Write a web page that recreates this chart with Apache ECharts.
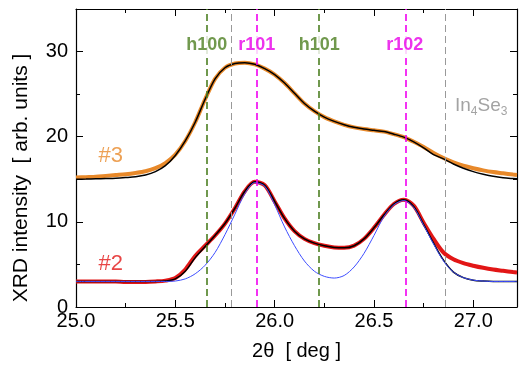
<!DOCTYPE html>
<html><head><meta charset="utf-8">
<script src="https://cdn.jsdelivr.net/npm/echarts@6/dist/echarts.min.js"></script>
<style>html,body{margin:0;padding:0;background:#fff}#c{width:519px;height:368px}</style>
</head><body><div id="c"></div>
<script>
// 2θ positions (deg)
const twoTheta = [25.0,25.05,25.1,25.15,25.2,25.25,25.3,25.35,25.4,25.45,25.5,25.55,25.6,25.65,25.7,25.75,25.8,25.85,25.9,25.95,26.0,26.05,26.1,26.15,26.2,26.25,26.3,26.35,26.4,26.45,26.5,26.55,26.6,26.65,26.7,26.75,26.8,26.85,26.9,26.95,27.0,27.05,27.1,27.15,27.2,27.22];
// sample #3 measured (orange) and fit (black)
const s3Data = [15.2,15.25,15.3,15.4,15.5,15.6,15.75,15.95,16.3,16.9,17.9,19.5,21.7,24.4,26.8,28.1,28.6,28.7,28.5,28.0,27.3,26.3,25.1,23.9,23.0,22.3,21.8,21.4,21.1,20.9,20.75,20.6,20.3,19.95,19.4,18.8,18.1,17.5,17.0,16.6,16.3,16.05,15.85,15.7,15.55,15.5];
const s3Fit  = [15.0,15.02,15.05,15.08,15.12,15.2,15.3,15.5,15.9,16.6,17.8,19.5,21.7,24.4,26.8,28.1,28.6,28.7,28.5,28.0,27.3,26.3,25.1,23.9,23.0,22.3,21.8,21.4,21.1,20.9,20.75,20.6,20.3,19.95,19.4,18.7,17.9,17.4,16.8,16.3,15.9,15.6,15.35,15.18,15.08,15.05];
// sample #2 measured (red), total fit (black), component fit (blue)
const s2Data = [3.0,3.0,3.0,3.0,3.0,2.95,2.95,2.95,3.0,3.1,3.4,4.4,6.0,7.2,8.4,9.8,11.6,13.6,14.7,14.3,12.4,10.4,8.9,8.0,7.5,7.2,7.0,6.95,7.2,8.0,9.3,10.8,12.1,12.6,11.9,9.9,8.0,6.4,5.6,5.15,4.85,4.6,4.4,4.25,4.1,4.05];
const s2Fit  = [3.0,3.0,3.0,3.0,3.0,3.0,3.0,3.0,3.0,3.05,3.3,4.2,5.8,7.1,8.4,9.8,11.6,13.6,14.7,14.3,12.4,10.4,8.9,8.0,7.5,7.2,7.0,6.95,7.2,8.0,9.3,10.8,12.1,12.6,11.8,9.7,7.5,5.5,4.1,3.45,3.15,3.05,3.0,3.0,3.0,3.0];
const s2Comp = [3.0,3.0,3.0,3.0,3.0,3.0,3.0,3.0,3.0,3.0,3.05,3.3,3.9,4.9,6.4,8.5,10.9,13.3,14.6,14.2,12.0,9.4,7.2,5.4,4.2,3.6,3.4,3.7,4.7,6.3,8.4,10.6,12.0,12.5,11.7,9.6,7.4,5.4,4.1,3.45,3.15,3.05,3.0,3.0,3.0,3.0];
// reference reflections
const refPos    = [25.658,25.78,25.91,26.224,26.655,26.856];
const refColors = ['#4d7f22','#999999','#f000f0','#4d7f22','#f000f0','#999999'];
const refNames  = ['h100','','r101','h101','r102',''];
const labelColors = ['#4d7f22','','#e800e8','#4d7f22','#e800e8',''];
const labelY = 30.8;
const xTicks = [25.0,25.5,26.0,26.5,27.0];
const yTicks = [0,10,20,30];

const pair = a => twoTheta.map((x,i)=>[x,a[i]]);
const font = 'Liberation Sans, Arial, sans-serif';

const peakLabels = refNames.map((n,i)=>n?{value:[refPos[i],labelY],label:{formatter:n,color:labelColors[i]}}:null).filter(Boolean);

const chart = echarts.init(document.getElementById('c'), null, {renderer:'canvas'});
const axisCommon = {
  axisLine:{show:true,onZero:false,lineStyle:{color:'#000',width:1.2}},
  axisTick:{show:true,inside:true,length:7,lineStyle:{color:'#000',width:1}},
  minorTick:{show:true,splitNumber:2,length:4,lineStyle:{color:'#000',width:1}},
  splitLine:{show:false}
};
chart.setOption({
  animation:false,
  grid:{left:76,right:2,top:9,bottom:61,containLabel:false,outerBoundsMode:'none'},
  xAxis:[
    Object.assign({type:'value',position:'bottom',min:25,max:27.22,interval:0.5,
      name:'2θ  [ deg ]',nameLocation:'middle',nameGap:34,
      nameTextStyle:{fontFamily:font,fontSize:20,color:'#000'},
      axisLabel:{fontFamily:font,fontSize:20,color:'#000',margin:4,showMaxLabel:false,
        formatter:v=>xTicks.some(t=>Math.abs(t-v)<1e-6)?v.toFixed(1):''}},axisCommon),
    Object.assign({type:'value',position:'top',min:25,max:27.22,interval:0.5,axisLabel:{show:false}},axisCommon)
  ],
  yAxis:[
    Object.assign({type:'value',position:'left',min:0,max:35,interval:10,
      name:'XRD intensity  [ arb. units ]',nameLocation:'middle',nameGap:44,
      nameTextStyle:{fontFamily:font,fontSize:21,color:'#000',padding:[0,40,0,0]},
      axisLabel:{fontFamily:font,fontSize:20,color:'#000',margin:8,showMaxLabel:false,
        formatter:v=>yTicks.includes(v)?String(v):''}},axisCommon),
    Object.assign({type:'value',position:'right',min:0,max:35,interval:10,axisLabel:{show:false}},axisCommon)
  ],
  series:[
    {type:'line',data:pair(s3Data),smooth:0.3,showSymbol:false,lineStyle:{color:'#e8892a',width:4},z:2,
      markLine:{silent:true,symbol:'none',label:{show:false},
        data:refPos.map((p,i)=>({xAxis:p,lineStyle:{color:refColors[i],type:[7,4],width:i===1||i===5?1:1.6}}))}},
    {type:'line',data:pair(s3Fit),smooth:0.3,showSymbol:false,lineStyle:{color:'#000',width:1.5},z:3},
    {type:'line',data:pair(s2Data),smooth:0.3,showSymbol:false,lineStyle:{color:'#e21616',width:4},z:2},
    {type:'line',data:pair(s2Comp),smooth:0.3,showSymbol:false,lineStyle:{color:'#3d4dff',width:1},z:4},
    {type:'line',data:pair(s2Fit),smooth:0.3,showSymbol:false,lineStyle:{color:'#000',width:1.5},z:3},
    {type:'scatter',symbolSize:0,data:peakLabels,z:6,
      label:{show:true,position:'inside',fontFamily:font,fontSize:18,fontWeight:'bold',backgroundColor:'#fff',padding:[1,0]}},
    {type:'scatter',symbolSize:0,z:5,data:[
      {value:[25.175,17.7],label:{formatter:'#3',color:'#e8892a'}},
      {value:[25.175,5.0],label:{formatter:'#2',color:'#e21616'}}],
      label:{show:true,position:'inside',fontFamily:font,fontSize:22}},
    {type:'scatter',symbolSize:0,z:5,data:[{value:[27.04,23.6]}],
      label:{show:true,position:'inside',formatter:'In{s|4}Se{s|3}',fontFamily:font,fontSize:19,color:'#8c8c8c',
        rich:{s:{fontFamily:font,fontSize:12,color:'#8c8c8c',verticalAlign:'bottom',padding:[12,0,0,0]}}}}
  ]
});
</script></body></html>
